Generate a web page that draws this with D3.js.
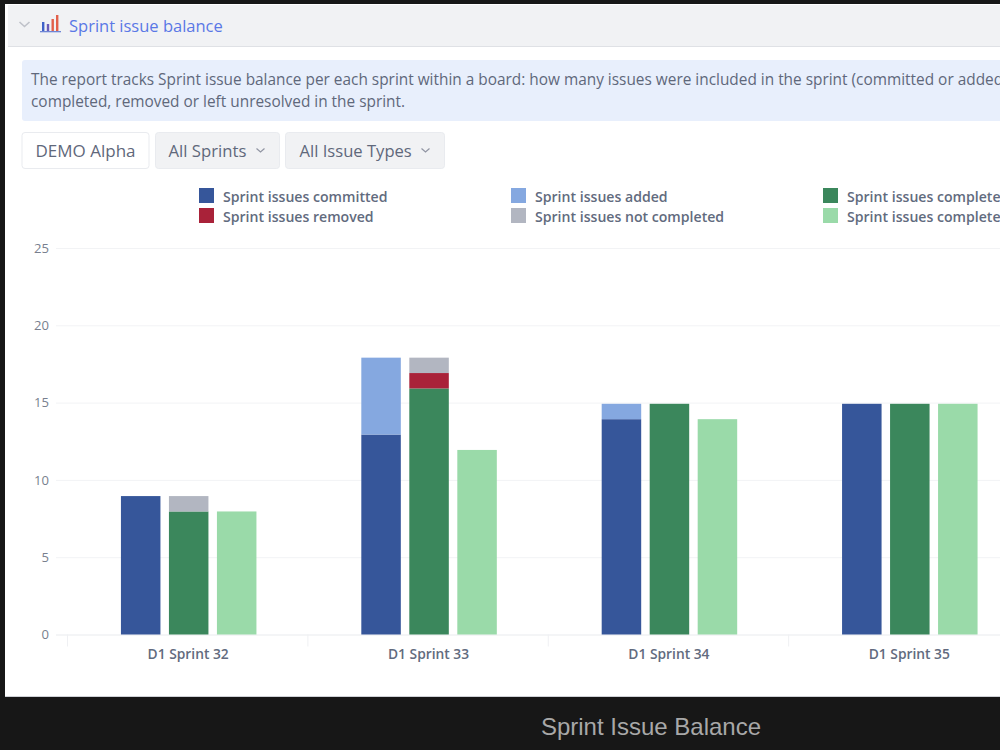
<!DOCTYPE html>
<html>
<head>
<meta charset="utf-8">
<title>Sprint Issue Balance</title>
<script src="https://cdn.jsdelivr.net/npm/d3@7/dist/d3.min.js"></script>
<style>
html,body{margin:0;padding:0;background:#171717;overflow:hidden}
svg{display:block}
text{font-family:"Open Sans","Noto Sans",sans-serif}
</style>
</head>
<body>
<svg id="page" width="1000" height="750"></svg>
<script>
// Sprint issue balance per sprint
const sprints = ["D1 Sprint 32", "D1 Sprint 33", "D1 Sprint 34", "D1 Sprint 35"];
const committed = [9, 13, 14, 15];
const added = [0, 5, 1, 0];
const completed = [8, 16, 15, 15];
const removed = [0, 1, 0, 0];
const notCompleted = [1, 1, 0, 0];
const completedCommitted = [8, 12, 14, 15];
const yTicks = [0, 5, 10, 15, 20, 25];

const legendRows = [
  [["Sprint issues committed", "#36569a"], ["Sprint issues added", "#85a8e0"], ["Sprint issues completed", "#3b875c"]],
  [["Sprint issues removed", "#a92239"], ["Sprint issues not completed", "#b2b6c1"], ["Sprint issues completed", "#9adaa9"]]
];
const legendX = [199, 511, 823];
const legendY = [188, 208];

// Each column is a stack of named segments, drawn bottom-up
const columns = [
  {key: "scope", parts: [[committed, "#36569a"], [added, "#85a8e0"]]},
  {key: "outcome", parts: [[completed, "#3b875c"], [removed, "#a92239"], [notCompleted, "#b2b6c1"]]},
  {key: "done", parts: [[completedCommitted, "#9adaa9"]]}
];

const svg = d3.select("#page");

// Card and panel chrome
svg.append("rect").attr("x", 5).attr("y", 4).attr("width", 1000).attr("height", 693).attr("fill", "#ffffff");
svg.append("rect").attr("x", 8).attr("y", 5).attr("width", 1000).attr("height", 41).attr("fill", "#f1f2f4");
svg.append("line").attr("x1", 8).attr("x2", 1000).attr("y1", 46.5).attr("y2", 46.5).attr("stroke", "#dfe1e5");

svg.append("path").attr("d", "M19.5 22l5 4.5 5-4.5").attr("fill", "none").attr("stroke", "#bfc2c9").attr("stroke-width", 1.6);

// Report icon: small bar glyph on a baseline
const icon = svg.append("g").attr("transform", "translate(40,15)");
[[2, 7, 9, "#3f62c8"], [6.8, 9, 7, "#6a5cb8"], [11.5, 4, 12, "#e2604a"], [16, 0, 16, "#e2604a"]].forEach(([x, y, h, c]) => {
  icon.append("rect").attr("x", x).attr("y", y).attr("width", 2.4).attr("height", h).attr("fill", c);
});
icon.append("rect").attr("x", 0).attr("y", 16).attr("width", 21).attr("height", 1.3).attr("fill", "#6f86d6");

svg.append("text").attr("x", 69).attr("y", 32).attr("font-size", 16.5).attr("fill", "#5a78e6").text("Sprint issue balance");

// Description box
svg.append("rect").attr("x", 22).attr("y", 60).attr("width", 990).attr("height", 61).attr("rx", 3).attr("fill", "#e8effc");
const intro = [
  "The report tracks Sprint issue balance per each sprint within a board: how many issues were included in the sprint (committed or added",
  "completed, removed or left unresolved in the sprint."
];
svg.selectAll("text.intro").data(intro).join("text").attr("class", "intro")
  .attr("x", 31).attr("y", (d, i) => 84.5 + i * 22.5)
  .attr("font-size", 15.4).attr("fill", "#5f687b").text(d => d);

// Filter buttons
const filters = [
  {label: "DEMO Alpha", x: 22, w: 127, bg: "#ffffff", tx: 35.5, size: 17, caret: false},
  {label: "All Sprints", x: 155.5, w: 124, bg: "#f1f2f4", tx: 168.5, size: 16.7, caret: true},
  {label: "All Issue Types", x: 285.5, w: 159, bg: "#f1f2f4", tx: 299.5, size: 16.6, caret: true}
];
filters.forEach(f => {
  svg.append("rect").attr("x", f.x).attr("y", 132.5).attr("width", f.w).attr("height", 36).attr("rx", 3)
    .attr("fill", f.bg).attr("stroke", "#e9ebef");
  svg.append("text").attr("x", f.tx).attr("y", 156.5).attr("font-size", f.size).attr("fill", "#5f687b").text(f.label);
  if (f.caret) {
    const end = f.x + f.w - 23;
    svg.append("path").attr("d", `M${end} 148.5l4 3.5 4-3.5`).attr("fill", "none").attr("stroke", "#9195a3").attr("stroke-width", 1.2);
  }
});

// Legend
legendRows.forEach((row, r) => row.forEach(([label, color], c) => {
  svg.append("rect").attr("x", legendX[c]).attr("y", legendY[r]).attr("width", 15).attr("height", 15).attr("fill", color);
  svg.append("text").attr("x", legendX[c] + 24).attr("y", legendY[r] + 14)
    .attr("font-size", 14.1).attr("font-weight", 600).attr("fill", "#626b7e").text(label);
}));

// Scales: the grid runs on y, the columns sit a touch inside it on yBar
const x = d3.scaleBand().domain(sprints).range([67, 1028.5]);
const inner = d3.scaleBand().domain(columns.map(d => d.key)).range([0, 135.5]).paddingInner(0.177);
const offset = (x.bandwidth() - inner.range()[1]) / 2 + 1.5;
const y = d3.scaleLinear().domain([0, 25]).range([634.5, 248]);
const yBar = d3.scaleLinear().domain([0, 25]).range([634.5, 250]);

// Horizontal grid
const grid = d3.axisLeft(y).tickValues(yTicks).tickSize(-950).tickPadding(7).tickFormat(d3.format("d"));
const gy = svg.append("g").attr("transform", "translate(56,0)").call(grid);
gy.select(".domain").remove();
gy.selectAll("line").attr("stroke", d => d === 0 ? "#e9ebee" : "#f2f3f5");
gy.selectAll("text").attr("font-size", 13.1).attr("fill", "#787f8e").style("font-family", '"Open Sans",sans-serif');

// Category axis
const ax = d3.axisBottom(x).tickSize(0).tickPadding(15);
const gx = svg.append("g").attr("transform", "translate(1,634.5)").call(ax);
gx.select(".domain").remove();
gx.selectAll("text").attr("font-size", 13.8).attr("font-weight", 600).attr("fill", "#626b7e").style("font-family", '"Open Sans",sans-serif');
gx.selectAll("line.sep").data(sprints).join("line").attr("class", "sep")
  .attr("x1", d => x(d) - 0.5).attr("x2", d => x(d) - 0.5).attr("y1", 0).attr("y2", 12).attr("stroke", "#eff0f3");

// Stacked columns
const barsLayer = svg.append("g");
sprints.forEach((s, i) => {
  columns.forEach(col => {
    let base = 0;
    col.parts.forEach(([values, color]) => {
      const v = values[i];
      if (v > 0) {
        barsLayer.append("rect")
          .attr("x", x(s) + offset + inner(col.key))
          .attr("width", inner.bandwidth())
          .attr("y", yBar(base + v))
          .attr("height", yBar(base) - yBar(base + v))
          .attr("fill", color);
      }
      base += v;
    });
  });
});

// Page frame and caption
svg.append("rect").attr("x", 0).attr("y", 697).attr("width", 1000).attr("height", 53).attr("fill", "#171717");
svg.append("line").attr("x1", 5).attr("x2", 1000).attr("y1", 696.5).attr("y2", 696.5).attr("stroke", "#cfd1d6");
svg.append("text").attr("x", 651).attr("y", 735).attr("text-anchor", "middle")
  .attr("font-size", 24).attr("fill", "#a8a8a8").style("font-family", '"Liberation Sans",Arial,sans-serif')
  .text("Sprint Issue Balance");
</script>
</body>
</html>
